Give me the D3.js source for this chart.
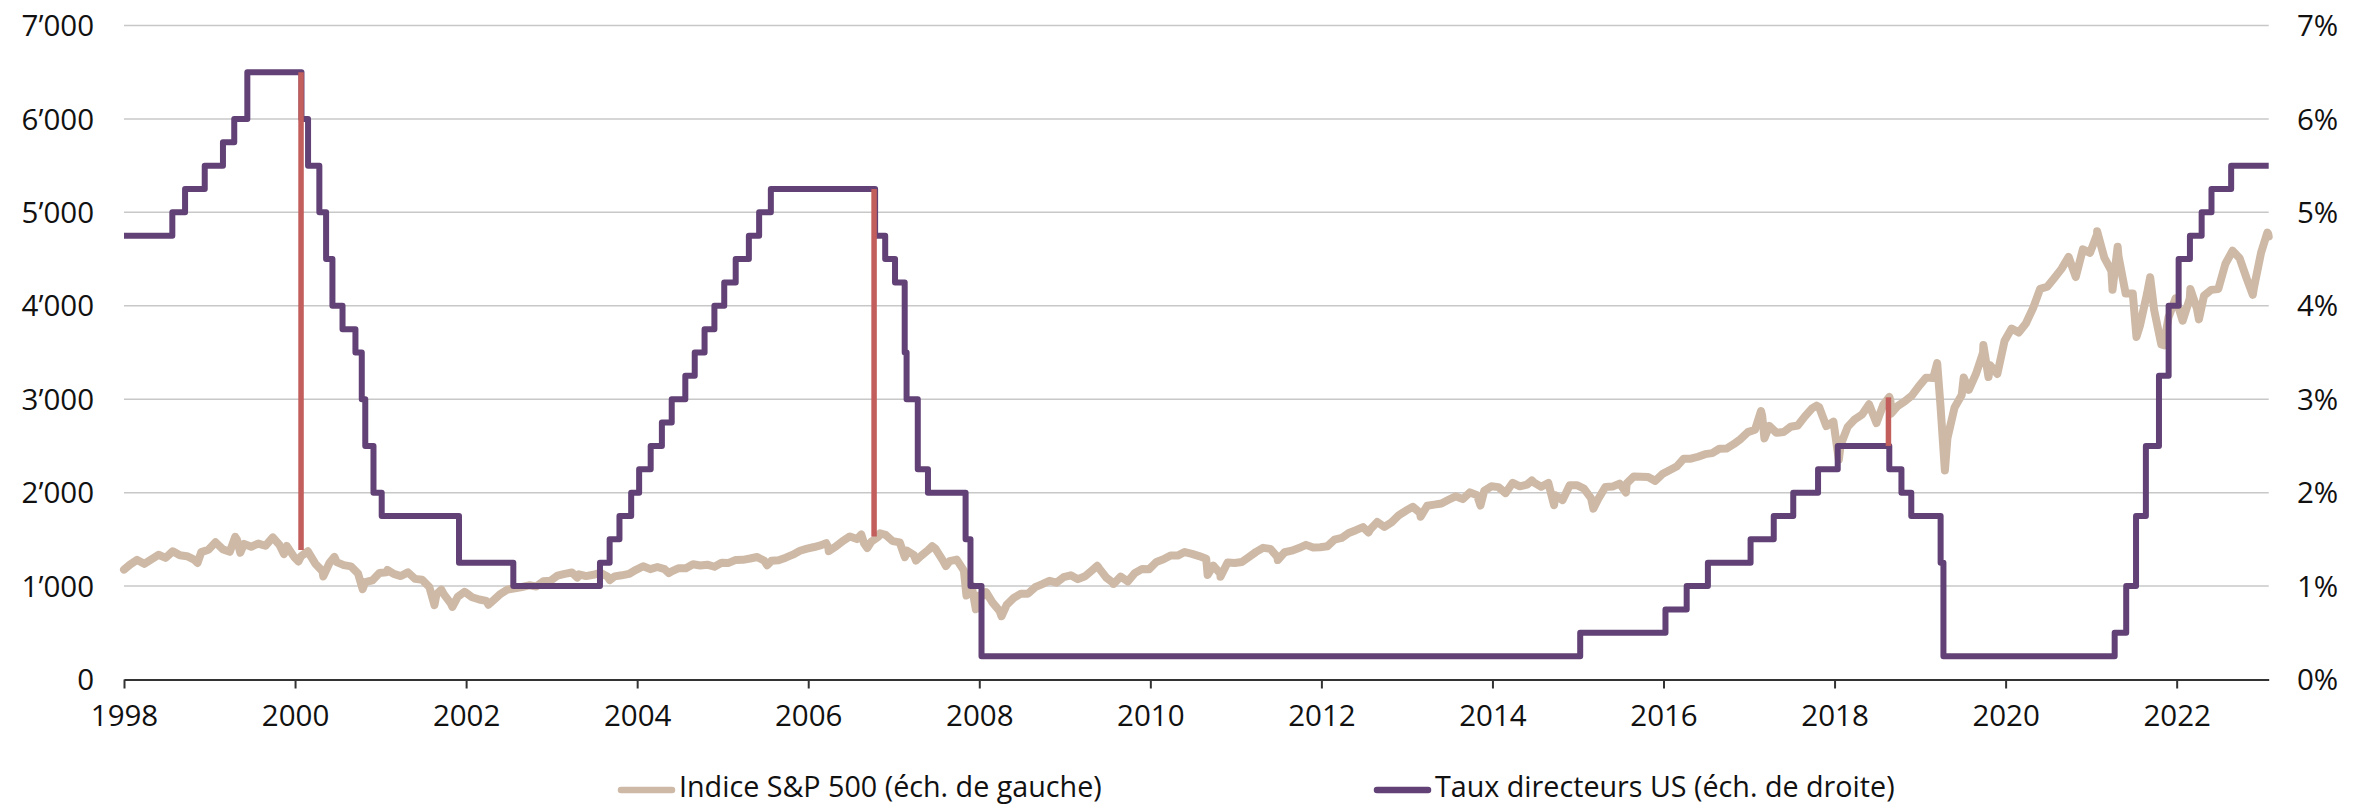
<!DOCTYPE html>
<html>
<head>
<meta charset="utf-8">
<script src="https://cdn.jsdelivr.net/npm/d3@7"></script>
<style>
  html, body { margin: 0; padding: 0; background: #fff; }
  svg { display: block; font-family: 'Open Sans', 'Noto Sans', sans-serif; }
</style>
</head>
<body>
<svg id="chart" width="2371" height="805"></svg>
<script>
// time is in chart years (as placed on the axis)
const years = d3.range(1998, 2023, 2)
const leftTicks = [0, 1000, 2000, 3000, 4000, 5000, 6000, 7000]
const rightTicks = [0, 1, 2, 3, 4, 5, 6, 7]

// S&P 500 month-end levels, first value at 1998.07, one per month
const spxFirstMonth = 1998.07
const spxMonthly = [
  1229,
  1280, 1238, 1286, 1335, 1302, 1373, 1329, 1320, 1283, 1363, 1389, 1469,
  1395, 1366, 1499, 1452, 1421, 1455, 1431, 1518, 1437, 1429, 1315, 1320,
  1366, 1240, 1160, 1250, 1256, 1224, 1211, 1134, 1041, 1060, 1140, 1148,
  1130, 1107, 1147, 1077, 1067, 990, 912, 916, 815, 886, 936, 880,
  856, 841, 848, 917, 964, 975, 990, 1008, 996, 1051, 1058, 1112,
  1131, 1145, 1126, 1107, 1121, 1141, 1102, 1104, 1115, 1130, 1174, 1212,
  1181, 1204, 1181, 1157, 1192, 1191, 1234, 1220, 1229, 1207, 1250, 1248,
  1280, 1281, 1295, 1311, 1270, 1270, 1277, 1304, 1336, 1378, 1401, 1418,
  1438, 1407, 1421, 1482, 1531, 1503, 1455, 1474, 1527, 1549, 1481, 1468,
  1379, 1331, 1323, 1386, 1400, 1280, 1267, 1283, 1166, 969, 896, 903,
  826, 735, 798, 873, 919, 919, 988, 1021, 1057, 1036, 1096, 1115,
  1074, 1105, 1169, 1187, 1089, 1031, 1102, 1049, 1141, 1183, 1181, 1258,
  1286, 1327, 1326, 1364, 1345, 1321, 1292, 1219, 1131, 1253, 1247, 1258,
  1312, 1366, 1409, 1398, 1310, 1362, 1379, 1407, 1441, 1412, 1416, 1426,
  1498, 1515, 1569, 1598, 1631, 1606, 1686, 1633, 1682, 1757, 1806, 1848,
  1783, 1860, 1872, 1884, 1924, 1960, 1931, 2003, 1972, 2018, 2068, 2059,
  1995, 2105, 2068, 2086, 2107, 2063, 2104, 1972, 1920, 2079, 2080, 2044,
  1940, 1932, 2060, 2065, 2097, 2099, 2174, 2171, 2168, 2126, 2199, 2239,
  2279, 2364, 2363, 2384, 2412, 2423, 2470, 2472, 2519, 2575, 2648, 2674,
  2824, 2714, 2641, 2648, 2705, 2718, 2816, 2902, 2914, 2712, 2760, 2507,
  2704, 2785, 2834, 2946, 2752, 2942, 2980, 2927, 2977, 3038, 3141, 3231,
  3226, 2954, 2585, 2912, 3044, 3100, 3271, 3500, 3363, 3270, 3622, 3756,
  3714, 3811, 3973, 4181, 4204, 4298, 4395, 4523, 4308, 4605, 4567, 4766,
  4516, 4374, 4530, 4132, 4132, 3785, 4130, 3955, 3586, 3872, 4080, 3840,
  4077, 3970, 4109, 4170, 4180, 4450, 4589, 4508, 4288, 4194, 4568, 4770
]

// intra-month highs and lows: [chart year, level]
const spxSwings = [
  [1998.00, 1176], [1998.86, 1247], [1999.30, 1527], [1999.36, 1357],
  [1999.74, 1521], [1999.87, 1342], [2000.04, 1264], [2000.15, 1373],
  [2000.33, 1103], [2000.46, 1312], [2000.79, 966], [2001.08, 1172],
  [2001.63, 797], [2001.71, 962], [2001.84, 777], [2001.98, 938],
  [2002.26, 800], [2003.30, 1091], [2003.68, 1064], [2004.37, 1138],
  [2005.52, 1223], [2006.21, 1460], [2006.24, 1374], [2006.62, 1553],
  [2006.69, 1407], [2006.84, 1565], [2007.13, 1310], [2007.26, 1273],
  [2007.45, 1426], [2007.61, 1215], [2007.85, 899], [2007.91, 1006],
  [2007.96, 752], [2008.08, 935], [2008.26, 677], [2009.38, 1217],
  [2009.57, 1022], [2010.40, 1364], [2010.67, 1119], [2010.82, 1099],
  [2011.49, 1278], [2012.55, 1573], [2013.16, 1742], [2013.86, 1862],
  [2014.46, 2131], [2014.72, 1867], [2015.18, 1829], [2015.56, 2001],
  [2017.14, 2873], [2017.18, 2581], [2017.79, 2931], [2018.05, 2351],
  [2018.49, 2744], [2018.64, 3025], [2018.66, 2845], [2019.20, 3386],
  [2019.29, 2237], [2019.51, 3232], [2019.74, 3580], [2019.80, 3237],
  [2021.07, 4797], [2021.25, 4171], [2021.31, 4632], [2021.53, 3667],
  [2021.69, 4305], [2021.85, 3577], [2021.99, 4076], [2022.16, 4180],
  [2022.26, 3855], [2022.89, 4117], [2023.06, 4783], [2023.076, 4742]
]

// US policy rate (upper bound, %), [chart year, new level]
const rateSteps = [
  [1998.000, 4.75], [1998.565, 5.00], [1998.714, 5.25], [1998.944, 5.50],
  [1999.157, 5.75], [1999.289, 6.00], [1999.442, 6.50], [2000.075, 6.00],
  [2000.152, 5.50], [2000.284, 5.00], [2000.363, 4.50], [2000.437, 4.00],
  [2000.555, 3.75], [2000.706, 3.50], [2000.780, 3.00], [2000.821, 2.50],
  [2000.917, 2.00], [2001.013, 1.75], [2001.917, 1.25], [2002.552, 1.00],
  [2003.565, 1.25], [2003.678, 1.50], [2003.793, 1.75], [2003.930, 2.00],
  [2004.023, 2.25], [2004.158, 2.50], [2004.289, 2.75], [2004.404, 3.00],
  [2004.563, 3.25], [2004.673, 3.50], [2004.788, 3.75], [2004.903, 4.00],
  [2005.018, 4.25], [2005.152, 4.50], [2005.306, 4.75], [2005.426, 5.00],
  [2005.563, 5.25], [2006.782, 4.75], [2006.900, 4.50], [2007.015, 4.25],
  [2007.128, 3.50], [2007.150, 3.00], [2007.281, 2.25], [2007.400, 2.00],
  [2007.840, 1.50], [2007.897, 1.00], [2008.026, 0.25], [2015.026, 0.50],
  [2016.023, 0.75], [2016.271, 1.00], [2016.519, 1.25], [2017.018, 1.50],
  [2017.289, 1.75], [2017.517, 2.00], [2017.807, 2.25], [2018.037, 2.50],
  [2018.640, 2.25], [2018.782, 2.00], [2018.897, 1.75], [2019.240, 1.25],
  [2019.273, 0.25], [2021.275, 0.50], [2021.410, 1.00], [2021.525, 1.75],
  [2021.640, 2.50], [2021.793, 3.25], [2021.906, 4.00], [2022.023, 4.50],
  [2022.155, 4.75], [2022.292, 5.00], [2022.407, 5.25], [2022.637, 5.50],
  [2023.076, 5.50]
]

// first cut after each hiking cycle: [chart year, rate %, S&P level]
const firstCuts = [
  [2000.07, 6.50, 1386],
  [2006.77, 5.25, 1530],
  [2018.63, 2.50, 3020]
]

const legendItems = [
  { label: 'Indice S&P 500 (éch. de gauche)', color: '#cdb9a6' },
  { label: 'Taux directeurs US (éch. de droite)', color: '#614176' }
]

const fontSize = 29.5

const spx = spxMonthly
  .map((v, i) => [spxFirstMonth + i / 12, v])
  .concat(spxSwings)
  .sort((a, b) => a[0] - b[0])

const svg = d3.select('#chart')

const x = d3.scaleLinear().domain([1998, 2023.076]).range([124, 2268.7])
const yLeft = d3.scaleLinear().domain([0, 7000]).range([679.5, 25.5])
const yRight = d3.scaleLinear().domain([0, 7]).range([679.5, 25.5])

// gridlines
svg.append('g')
  .selectAll('line')
  .data(leftTicks.filter((d) => d > 0))
  .join('line')
  .attr('x1', x.range()[0])
  .attr('x2', x.range()[1])
  .attr('y1', (d) => yLeft(d))
  .attr('y2', (d) => yLeft(d))
  .attr('stroke', '#c8c8c8')
  .attr('stroke-width', 1.5)

// left labels
svg.append('g')
  .selectAll('text')
  .data(leftTicks)
  .join('text')
  .attr('x', 94)
  .attr('y', (d) => yLeft(d))
  .attr('dy', '0.36em')
  .attr('text-anchor', 'end')
  .attr('font-size', fontSize)
  .attr('fill', '#111')
  .text((d) => d3.format(',')(d).replace(',', '\u2019'))

// right labels
svg.append('g')
  .selectAll('text')
  .data(rightTicks)
  .join('text')
  .attr('x', 2297)
  .attr('y', (d) => yRight(d))
  .attr('dy', '0.36em')
  .attr('text-anchor', 'start')
  .attr('font-size', fontSize)
  .attr('fill', '#111')
  .text((d) => d + '%')

// S&P 500
svg.append('path')
  .datum(spx)
  .attr('fill', 'none')
  .attr('stroke', legendItems[0].color)
  .attr('stroke-width', 8)
  .attr('stroke-linejoin', 'round')
  .attr('stroke-linecap', 'round')
  .attr('d', d3.line().x((d) => x(d[0])).y((d) => yLeft(d[1])))

// policy rate
svg.append('path')
  .datum(rateSteps)
  .attr('fill', 'none')
  .attr('stroke', legendItems[1].color)
  .attr('stroke-width', 6)
  .attr('stroke-linejoin', 'round')
  .attr('d', d3.line().curve(d3.curveStepAfter).x((d) => x(d[0])).y((d) => yRight(d[1])))

// first-cut markers
svg.append('g')
  .selectAll('line')
  .data(firstCuts)
  .join('line')
  .attr('x1', (d) => x(d[0]))
  .attr('x2', (d) => x(d[0]))
  .attr('y1', (d) => yRight(d[1]))
  .attr('y2', (d) => yLeft(d[2]))
  .attr('stroke', '#c25e5c')
  .attr('stroke-width', 5.5)

// x axis
const xAxis = svg.append('g')
  .attr('transform', `translate(0,${yLeft(0)})`)
  .call(d3.axisBottom(x).tickValues(years).tickFormat(d3.format('d')).tickSize(9).tickSizeOuter(0).tickPadding(17))
xAxis.select('.domain').attr('stroke', '#333').attr('stroke-width', 2)
xAxis.selectAll('.tick line').attr('stroke', '#333').attr('stroke-width', 2)
xAxis.selectAll('.tick text')
  .attr('font-size', fontSize)
  .attr('font-family', "'Open Sans', 'Noto Sans', sans-serif")
  .attr('fill', '#111')

// legend
const legendX = [618, 1374]
const legend = svg.append('g')
  .selectAll('g')
  .data(legendItems)
  .join('g')
  .attr('transform', (d, i) => `translate(${legendX[i]},790)`)
legend.append('line')
  .attr('x1', 3)
  .attr('x2', 54)
  .attr('stroke', (d) => d.color)
  .attr('stroke-width', 6.5)
  .attr('stroke-linecap', 'round')
legend.append('text')
  .attr('x', 61)
  .attr('y', 7)
  .attr('font-size', 28.7)
  .attr('fill', '#111')
  .text((d) => d.label)
</script>
</body>
</html>
